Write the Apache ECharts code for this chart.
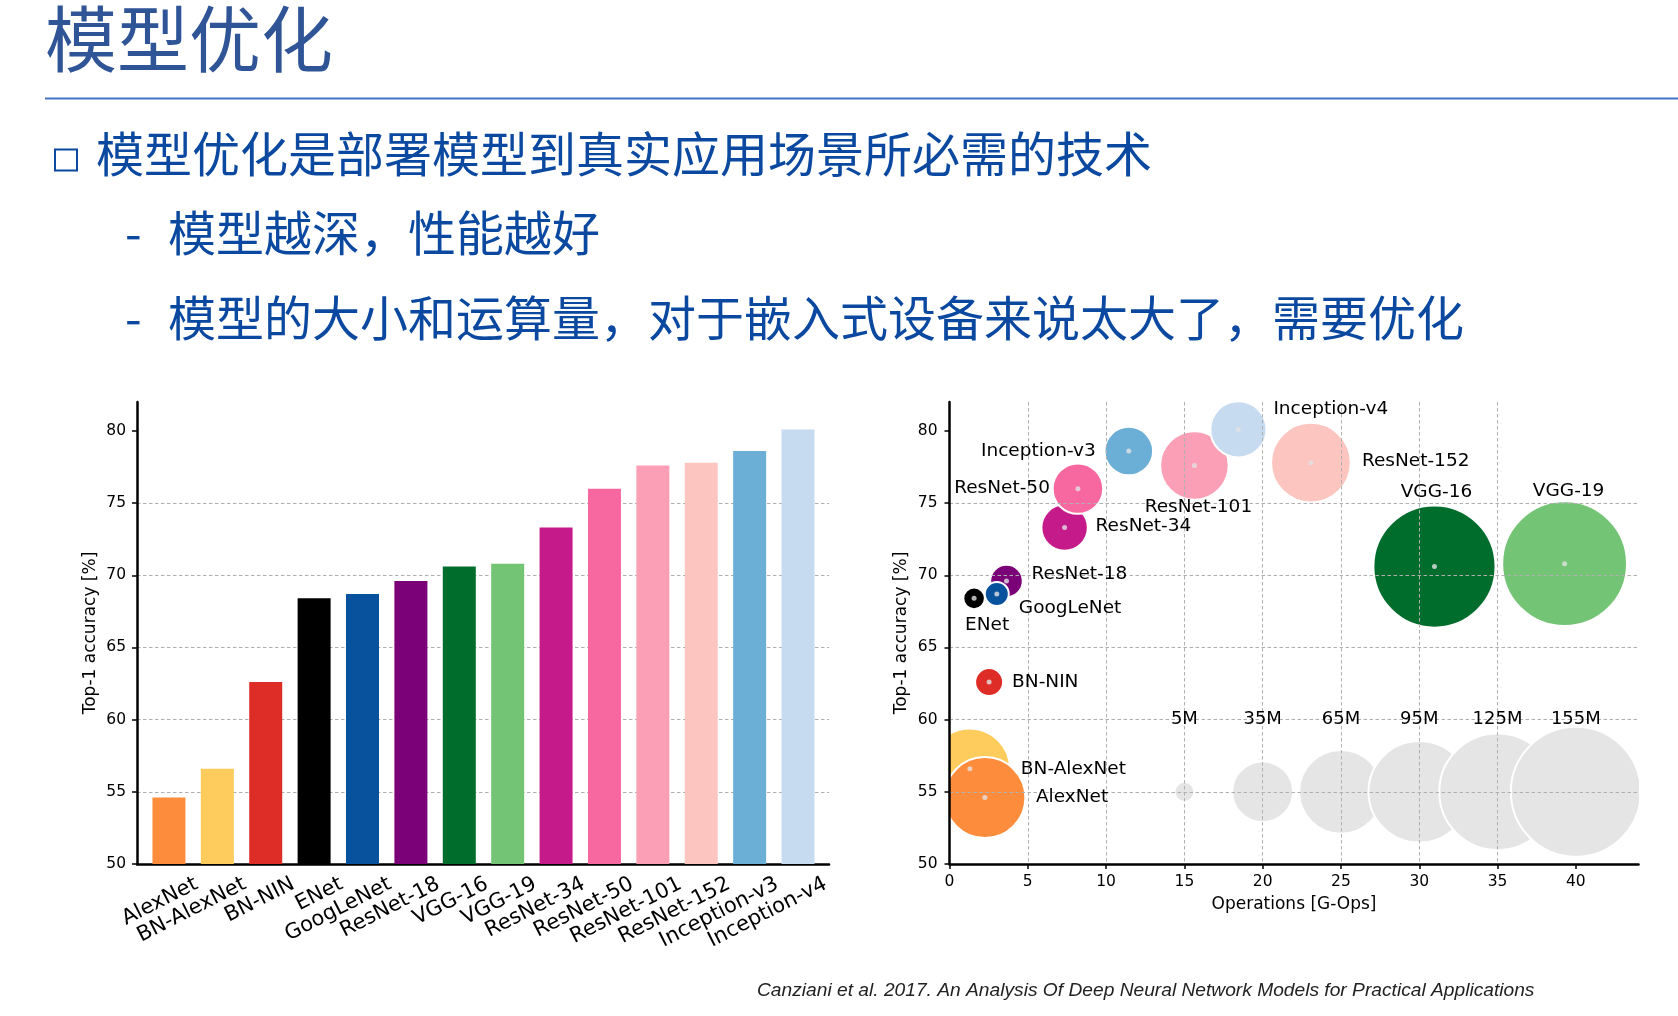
<!DOCTYPE html>
<html><head><meta charset="utf-8">
<script src="https://cdn.jsdelivr.net/npm/echarts@6/dist/echarts.min.js"></script>
<style>html,body{margin:0;padding:0;background:#fff}#c{width:1678px;height:1016px}</style>
</head><body><div id="c"></div>
<script>
// ---- data ----
const models = ['AlexNet','BN-AlexNet','BN-NIN','ENet','GoogLeNet','ResNet-18','VGG-16','VGG-19','ResNet-34','ResNet-50','ResNet-101','ResNet-152','Inception-v3','Inception-v4'];
const accuracy = [54.6,56.6,62.6,68.4,68.7,69.6,70.6,70.8,73.3,76.0,77.6,77.8,78.6,80.1];
const opsG = [2.26,1.30,2.53,1.57,3.02,3.64,30.97,39.28,7.35,8.2,15.64,23.08,11.45,18.45];
const paramsM = [61,60,8.5,5.6,6.6,11,137,143,21,24.5,44,59,22.8,30];
const accTicks = [50,55,60,65,70,75,80];
const opsTicks = [0,5,10,15,20,25,30,35,40];
const legendParamsM = [5,35,65,95,125,155];
const legendOps = [15,20,25,30,35,40];
const legendAcc = 55;
const legendLabelAcc = 60;
const titleText = '模型优化';
const bulletText = '模型优化是部署模型到真实应用场景所必需的技术';
const subTexts = ['模型越深，性能越好','模型的大小和运算量，对于嵌入式设备来说太大了，需要优化'];
const footerText = 'Canziani et al. 2017. An Analysis Of Deep Neural Network Models for Practical Applications';

// ---- styles ----
const colors = ['#FD8D3C','#FECC5C','#DE2D26','#000000','#08519C','#7A0177','#006D2C','#74C476','#C51B8A','#F768A1','#FA9FB5','#FCC5C0','#6BAED6','#C6DBEF'];
const bubbleOrder = [1,0,2,3,5,4,8,9,12,10,13,11,6,7];
// label placement: [align, dx, dy] in px from bubble centre
const labelPlace = [
  ['left',51,0],['left',51,0],['left',23,0],['center',13,27],['left',22,14],['left',25,-7],
  ['center',2,-74],['center',4,-73],['left',31,-1],['right',-28,0],['center',4,42],['left',51,-1],
  ['right',-33,0],['left',35,-20]
];
const radiusOf = m => Math.sqrt(Math.max(27.5 * m - 37.5, 4));
const FONT = 'DejaVu Sans';
const CJK = '"Noto Sans CJK SC"';
const gridLine = {show:true, showMaxLine:false, showMinLine:false, lineStyle:{color:'#b0b0b0', type:[3.5,2.5], width:1}};
const axisLine = {show:true, onZero:false, lineStyle:{color:'#000', width:2.5}};
const tickLabel = {fontFamily:FONT, fontSize:15.5, color:'#000'};
const nameStyle = {fontFamily:FONT, fontSize:17, color:'#000'};

const chart = echarts.init(document.getElementById('c'), null, {renderer:'canvas'});
const option = {
  animation:false,
  backgroundColor:'#fff',
  grid:[
    {left:137, right:849, top:402, bottom:152, outerBoundsMode:'none'},
    {left:949.5, right:39.5, top:402, bottom:152, outerBoundsMode:'none'}
  ],
  xAxis:[
    {gridIndex:0, type:'value', min:-0.66, max:13.64, axisLine:axisLine, axisTick:{show:false}, splitLine:{show:false},
     axisLabel:{customValues:models.map((_,i)=>i), formatter:v=>models[Math.round(v)], rotate:27, margin:33, padding:[0,-31,0,0], fontFamily:FONT, fontSize:21, color:'#000'}},
    {gridIndex:1, type:'value', min:0, max:44, z:5, axisLine:axisLine,
     axisTick:{show:true, length:5, customValues:opsTicks, lineStyle:{color:'#000', width:1.5}},
     axisLabel:Object.assign({customValues:opsTicks, margin:10}, tickLabel),
     splitLine:gridLine,
     name:'Operations [G-Ops]', nameLocation:'middle', nameGap:32, nameMoveOverlap:false, nameTextStyle:nameStyle}
  ],
  yAxis:[
    {gridIndex:0, type:'value', min:50, max:82, axisLine:axisLine,
     axisTick:{show:true, length:5, customValues:accTicks, lineStyle:{color:'#000', width:1.5}},
     axisLabel:Object.assign({customValues:accTicks, margin:11}, tickLabel),
     splitLine:gridLine,
     name:'Top-1 accuracy [%]', nameLocation:'middle', nameGap:38, nameMoveOverlap:false, nameTextStyle:nameStyle},
    {gridIndex:1, type:'value', min:50, max:82, z:5, axisLine:axisLine,
     axisTick:{show:true, length:5, customValues:accTicks, lineStyle:{color:'#000', width:1.5}},
     axisLabel:Object.assign({customValues:accTicks, margin:12}, tickLabel),
     splitLine:gridLine,
     name:'Top-1 accuracy [%]', nameLocation:'middle', nameGap:39, nameMoveOverlap:false, nameTextStyle:nameStyle}
  ],
  series:[
    {type:'bar', xAxisIndex:0, yAxisIndex:0, barWidth:33, silent:true,
     data:accuracy.map((v,i)=>({value:[i,v], itemStyle:{color:colors[i]}}))},
    {type:'custom', xAxisIndex:1, yAxisIndex:1, clip:true, silent:true, z:2,
     data:legendParamsM.map((m,i)=>[legendOps[i], legendAcc, m]),
     renderItem:(p, api)=>{
       const c = api.coord([api.value(0), api.value(1)]);
       return {type:'circle', shape:{cx:c[0], cy:c[1], r:radiusOf(api.value(2))}, style:{fill:'#e5e5e5', stroke:'#fff', lineWidth:2}};
     }},
    {type:'custom', xAxisIndex:1, yAxisIndex:1, clip:true, silent:true, z:2,
     data:bubbleOrder.map(i=>[opsG[i], accuracy[i], paramsM[i], i]),
     renderItem:(p, api)=>{
       const c = api.coord([api.value(0), api.value(1)]);
       return {type:'circle', shape:{cx:c[0], cy:c[1], r:radiusOf(api.value(2))}, style:{fill:colors[api.value(3)], stroke:'#fff', lineWidth:2}};
     }},
    {type:'scatter', xAxisIndex:1, yAxisIndex:1, silent:true, z:3, symbolSize:5,
     itemStyle:{color:'#e2e2e2'}, data:opsG.map((x,i)=>[x, accuracy[i]])},
    {type:'custom', xAxisIndex:1, yAxisIndex:1, clip:false, silent:true, z:6,
     data:models.map((n,i)=>[opsG[i], accuracy[i], i]),
     renderItem:(p, api)=>{
       const i = api.value(2);
       const c = api.coord([api.value(0), api.value(1)]);
       const pl = labelPlace[i];
       return {type:'text', x:c[0]+pl[1], y:c[1]+pl[2], style:{text:models[i], fill:'#000', fontSize:18.5, fontFamily:FONT, align:pl[0], verticalAlign:'middle'}};
     }},
    {type:'custom', xAxisIndex:1, yAxisIndex:1, clip:false, silent:true, z:6,
     data:legendParamsM.map((m,i)=>[legendOps[i], legendLabelAcc, m]),
     renderItem:(p, api)=>{
       const c = api.coord([api.value(0), api.value(1)]);
       return {type:'text', x:c[0], y:c[1], style:{text:api.value(2)+'M', fill:'#000', fontSize:18, fontFamily:FONT, align:'center', verticalAlign:'middle'}};
     }}
  ],
  graphic:[
    {type:'text', x:45, y:39, style:{text:titleText, fill:'#2F5597', fontSize:72, fontFamily:CJK, verticalAlign:'middle'}},
    {type:'line', shape:{x1:45, y1:98.5, x2:1678, y2:98.5}, style:{stroke:'#4472C4', lineWidth:2}},
    {type:'rect', shape:{x:55, y:149.5, width:22, height:21}, style:{fill:'none', stroke:'#0B49A0', lineWidth:2}},
    {type:'text', x:96, y:154, style:{text:bulletText, fill:'#0B49A0', fontSize:48, fontFamily:CJK, verticalAlign:'middle'}},
    {type:'text', x:125, y:232.5, style:{text:'-', fill:'#0B49A0', fontSize:48, fontFamily:CJK, verticalAlign:'middle'}},
    {type:'text', x:168, y:232.5, style:{text:subTexts[0], fill:'#0B49A0', fontSize:48, fontFamily:CJK, verticalAlign:'middle'}},
    {type:'text', x:125, y:317.5, style:{text:'-', fill:'#0B49A0', fontSize:48, fontFamily:CJK, verticalAlign:'middle'}},
    {type:'text', x:168, y:317.5, style:{text:subTexts[1], fill:'#0B49A0', fontSize:48, fontFamily:CJK, verticalAlign:'middle'}},
    {type:'text', x:757, y:991, style:{text:footerText, fill:'#222', fontSize:19.2, fontStyle:'italic', fontFamily:'Liberation Sans', verticalAlign:'middle'}}
  ]
};
chart.setOption(option);
</script>
</body></html>
